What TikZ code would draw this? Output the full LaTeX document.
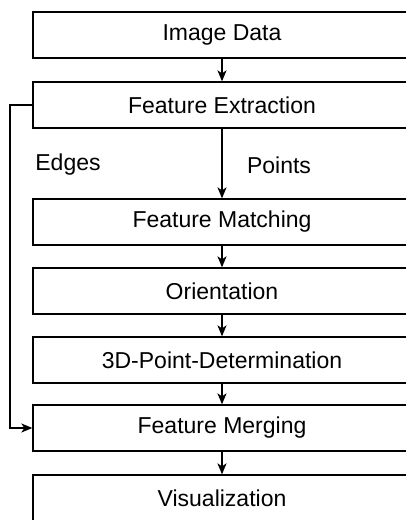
\documentclass[tikz,border=0pt]{standalone}
\usepackage{fontspec}
\setmainfont{Liberation Sans}
\usetikzlibrary{arrows.meta}
\tikzset{
  stage/.style={draw=black, line width=1.3pt, minimum width=378pt, minimum height=46pt, inner sep=0pt, anchor=center, font=\fontsize{23}{27}\selectfont},
  lbl/.style={inner sep=0pt, anchor=center, font=\fontsize{23}{27}\selectfont},
  flow/.style={line width=1.3pt, -{Stealth[length=11pt,width=9pt,inset=3pt]}}
}
\begin{document}
\begin{tikzpicture}[x=1pt,y=-1pt]
\useasboundingbox (0,0) rectangle (406,520);
\clip (0,0) rectangle (406,520);
\node[stage] (img) at (222,35) {Image Data};
\node[stage] (ext) at (222,105) {Feature Extraction};
\node[stage] (mat) at (222,222) {Feature Matching};
\node[stage] (ori) at (222,291) {Orientation};
\node[stage] (pts) at (222,360) {3D-Point-Determination};
\node[stage] (mer) at (222,428) {Feature Merging};
\node[stage] (vis) at (222,498) {Visualization};
\node[lbl] (edges) at (68,165) {Edges};
\node[lbl] (points) at (279,165) {Points};
\coordinate (c1) at (10,105);
\coordinate (c2) at (10,428);
\draw[flow] (img) -- (ext);
\draw[flow] (ext) -- (mat);
\draw[flow] (mat) -- (ori);
\draw[flow] (ori) -- (pts);
\draw[flow] (pts) -- (mer);
\draw[flow] (mer) -- (vis);
\draw[flow] (ext.west) -- (c1) -- (c2) -- (mer.west);
\end{tikzpicture}
\end{document}
